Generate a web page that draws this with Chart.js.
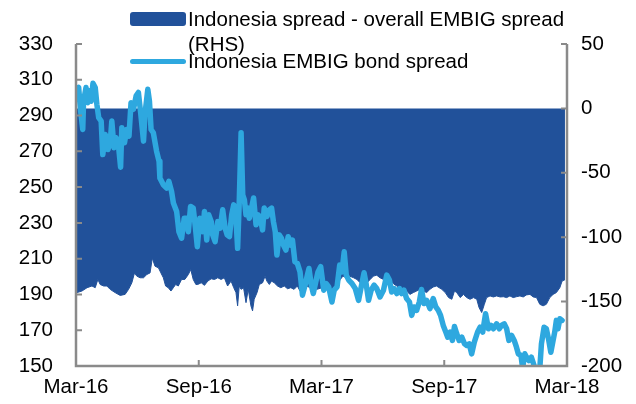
<!DOCTYPE html>
<html>
<head>
<meta charset="utf-8">
<script src="https://cdn.jsdelivr.net/npm/chart.js@4.4.0/dist/chart.umd.min.js"></script>
<style>
  html, body { margin: 0; padding: 0; background: #fff; }
  #wrap { position: relative; width: 636px; height: 404px; }
  .lg { position: absolute; font-family: 'Liberation Sans', Arial, sans-serif; font-size: 20.5px; line-height: 25px; color: #000; white-space: nowrap; }
  .key { position: absolute; }
</style>
</head>
<body>
<div id="wrap">
  <canvas id="myChart" width="636" height="404"></canvas>
  <div class="key" style="left:130px; top:12px; width:56px; height:14px; background:#21519a; border-radius:3px;"></div>
  <div class="lg" style="left:188px; top:6px;">Indonesia spread - overall EMBIG spread<br>(RHS)</div>
  <div class="key" style="left:130px; top:59px; width:56px; height:5px; background:#2ea8df; border-radius:3px;"></div>
  <div class="lg" style="left:188px; top:48px;">Indonesia EMBIG bond spread</div>
</div>
<script>
// x values are months since Mar-16
const xTickLabels = ['Mar-16', 'Sep-16', 'Mar-17', 'Sep-17', 'Mar-18'];

// Indonesia EMBIG bond spread (LHS)
const bondMonths = [
  0.05,0.13,0.21,0.33,0.37,0.49,0.58,0.67,0.74,0.83,
  0.94,1.02,1.11,1.23,1.31,1.43,1.56,1.67,1.75,1.86,
  1.96,2.08,2.18,2.24,2.37,2.48,2.59,2.69,2.81,2.94,
  3.05,3.16,3.30,3.37,3.51,3.59,3.67,3.78,3.94,4.06,
  4.10,4.27,4.43,4.54,4.67,4.76,4.92,5.03,5.16,5.29,
  5.40,5.49,5.60,5.73,5.84,5.93,6.05,6.20,6.28,6.39,
  6.49,6.61,6.68,6.80,6.93,7.04,7.17,7.29,7.39,7.50,
  7.61,7.71,7.82,7.90,7.98,8.07,8.15,8.23,8.31,8.39,
  8.47,8.58,8.68,8.80,8.91,9.01,9.12,9.20,9.33,9.45,
  9.56,9.65,9.74,9.82,9.93,10.04,10.14,10.26,10.37,10.50,
  10.58,10.70,10.82,10.95,11.07,11.20,11.31,11.39,11.50,11.60,
  11.72,11.83,11.96,12.11,12.23,12.35,12.51,12.62,12.76,12.89,
  13.00,13.11,13.21,13.33,13.49,13.65,13.81,13.94,14.08,14.18,
  14.30,14.43,14.57,14.70,14.86,15.03,15.19,15.32,15.43,15.55,
  15.68,15.81,15.92,16.03,16.16,16.30,16.41,16.52,16.65,16.78,
  16.89,17.01,17.14,17.30,17.46,17.59,17.71,17.82,17.95,18.08,
  18.17,18.29,18.40,18.50,18.61,18.73,18.86,18.99,19.10,19.22,
  19.34,19.47,19.63,19.75,19.88,20.02,20.16,20.29,20.40,20.56,
  20.69,20.80,20.93,21.05,21.16,21.29,21.42,21.53,21.62,21.75,
  21.83,21.94,22.02,22.14,22.26,22.40,22.51,22.67,22.75,22.88,
  22.99,23.11,23.21,23.32,23.40,23.48,23.56,23.65,23.76
];
const bondSpread = [
  304.7,305.7,294.4,282.2,298,305.7,297.2,303.8,298,308,
  305.7,296.3,288.8,286.9,268.2,279.4,271,274.8,286.9,272,
  277.6,272.9,261.1,283.2,274.8,282.2,278.5,297.2,293.5,301,
  302.9,291.6,275.7,290.7,304.7,298,282.2,280.4,270,264.4,
  255.1,251.3,249.5,253.2,247.6,241.1,236.4,225.1,221.4,232.6,
  232.6,225.1,239.2,238.3,227,216.7,232.6,225.1,236.4,220.4,
  234.5,230.7,223.3,219.5,230.7,227,237.3,227,223.3,222.3,
  234.5,240.1,232.6,215.8,242,280.4,245.7,242.9,234.5,238.3,
  232.6,238.3,243.9,228.9,234.5,232.6,226.1,238.3,233.6,237.3,
  238.3,230.7,225.1,212,223.3,221.4,217.6,214.8,222.3,217.6,
  220.4,208.3,207.4,202.6,189.6,195.2,200.8,204.5,195.2,190.5,
  197,202.6,205.5,192.4,196.1,194.2,185.8,192.4,194.2,206.4,
  202.6,213.9,200.8,198,196.1,193.3,186.7,194.2,202.1,196.1,
  186.7,192.4,195.2,193.3,188.6,192.4,200.8,198,191.4,193.3,
  190.5,193.3,190.5,192.4,187.7,185.8,178.3,183,181.1,185.8,
  192.8,184.9,186.7,182.1,187.7,183,181.1,178.3,172.7,168.9,
  166.1,169,164.3,172.1,168,164.3,166.1,162.4,161.5,162.4,
  156.8,163.3,169,171.7,169,179.2,170.8,172.7,170.8,173.6,
  170.8,172.7,173.6,170.8,164.3,167.1,164.3,160.5,156.8,155.9,
  149,156.8,154.9,153,154.9,150,149,148.5,162.4,171.7,
  170.8,164.3,157.7,164.3,169,175.5,170.8,176.4,175.5
];

// Indonesia spread - overall EMBIG spread (RHS)
const gapMonths = [
  0.00,0.05,0.29,0.54,0.78,0.94,1.07,1.18,1.35,1.51,
  1.67,1.91,2.16,2.40,2.57,2.73,2.86,2.97,3.13,3.30,
  3.46,3.62,3.73,3.86,4.03,4.15,4.27,4.38,4.51,4.64,
  4.76,4.87,5.00,5.16,5.32,5.49,5.61,5.73,5.86,5.95,
  6.12,6.28,6.44,6.61,6.77,6.93,7.09,7.25,7.41,7.58,
  7.71,7.82,7.90,7.98,8.07,8.19,8.31,8.42,8.55,8.63,
  8.71,8.85,8.96,9.12,9.24,9.33,9.45,9.56,9.69,9.85,
  10.01,10.18,10.34,10.50,10.66,10.82,10.95,11.12,11.28,11.44,
  11.60,11.77,12.03,12.27,12.43,12.59,12.76,12.92,13.05,13.21,
  13.37,13.57,13.73,13.89,14.06,14.22,14.38,14.54,14.70,14.86,
  15.03,15.19,15.35,15.52,15.68,15.84,16.00,16.16,16.32,16.49,
  16.65,16.81,16.98,17.14,17.30,17.46,17.62,17.88,18.05,18.21,
  18.37,18.50,18.61,18.78,18.94,19.10,19.26,19.43,19.59,19.70,
  19.83,19.96,20.07,20.24,20.40,20.56,20.73,20.89,21.05,21.21,
  21.37,21.53,21.70,21.86,22.02,22.19,22.35,22.51,22.67,22.83,
  22.99,23.16,23.32,23.48,23.65,23.76,23.90
];
const gapSpread = [
  -143,-143,-141.8,-139.2,-137.9,-139.2,-132.8,-136.7,-137.9,-137.9,
  -140.5,-143,-145.2,-144.4,-140.5,-135.4,-127.7,-130.2,-131.5,-131.5,
  -129,-127.7,-116.2,-122.5,-123.8,-127.7,-131.5,-137.9,-139.2,-141.8,
  -139.2,-136.7,-137.9,-132.8,-132.8,-129,-125.1,-132.8,-136.7,-136.7,
  -135.4,-137.4,-134.1,-132.3,-132.8,-131.5,-132.8,-131.5,-137.9,-134.1,
  -139.2,-143,-153.3,-137.9,-140.5,-139.2,-150.8,-140.5,-153.3,-157.2,
  -148.2,-143,-136.7,-135.4,-130.2,-134.1,-136.7,-134.1,-135.4,-137.9,
  -139.2,-137.9,-140,-139.2,-140.5,-137.9,-141.8,-141.8,-137.9,-139.2,
  -139.2,-140.5,-139.2,-140.5,-141.8,-139.2,-136.7,-132.8,-130.2,-131.5,
  -130.2,-131.5,-132.8,-135.4,-134.1,-135.4,-132.8,-130.2,-129.5,-131.5,
  -132.8,-134.1,-132.8,-136.2,-137.9,-139.2,-141.3,-141.8,-144.4,-143,
  -141.8,-140.5,-141.8,-143,-140.5,-138.7,-137.9,-140.5,-143,-146.9,
  -148.2,-141.8,-143,-146.9,-144.4,-146.9,-148.2,-146.9,-148.2,-154.6,
  -158.5,-152.1,-146.9,-145.6,-146.4,-145.6,-146.4,-146.2,-146.9,-145.6,
  -146.9,-146.2,-145.6,-146.4,-144.8,-144.4,-146.4,-146.9,-152.1,-153.3,
  -152.1,-146.9,-144.4,-143,-139.2,-134.1,-133
];

const darkBlue = '#21519a';
const lightBlue = '#2ea8df';
const axisGrey = '#8a8a8a';
const tickFont = { family: "'Liberation Sans', Arial, sans-serif", size: 20.5 };

const bondPoints = bondMonths.map((m, i) => ({ x: m, y: bondSpread[i] }));
const gapPoints = gapMonths.map((m, i) => ({ x: m, y: gapSpread[i] }));

// axis lines and short inward tick marks, drawn over the data
const axisLines = {
  id: 'axisLines',
  afterDatasetsDraw(chart) {
    const { ctx, chartArea: a, scales } = chart;
    ctx.save();
    ctx.strokeStyle = axisGrey;
    ctx.lineWidth = 2.5;
    ctx.beginPath();
    ctx.moveTo(a.left, a.top);
    ctx.lineTo(a.left, a.bottom);
    ctx.lineTo(a.right, a.bottom);
    ctx.lineTo(a.right, a.top);
    ctx.stroke();
    ctx.lineWidth = 2;
    ctx.beginPath();
    scales.y.ticks.forEach(t => {
      const p = scales.y.getPixelForValue(t.value);
      ctx.moveTo(a.left, p); ctx.lineTo(a.left + 6, p);
    });
    scales.y1.ticks.forEach(t => {
      const p = scales.y1.getPixelForValue(t.value);
      ctx.moveTo(a.right, p); ctx.lineTo(a.right - 6, p);
    });
    scales.x.ticks.forEach(t => {
      const p = scales.x.getPixelForValue(t.value);
      ctx.moveTo(p, a.bottom); ctx.lineTo(p, a.bottom - 6);
    });
    ctx.stroke();
    ctx.restore();
  }
};

new Chart(document.getElementById('myChart'), {
  type: 'line',
  data: {
    datasets: [{
      label: 'Indonesia EMBIG bond spread',
      data: bondPoints,
      yAxisID: 'y',
      borderColor: lightBlue,
      borderWidth: 5.5,
      borderJoinStyle: 'round',
      borderCapStyle: 'round',
      pointRadius: 0,
      tension: 0,
      fill: false
    }, {
      label: 'Indonesia spread - overall EMBIG spread (RHS)',
      data: gapPoints,
      yAxisID: 'y1',
      borderColor: darkBlue,
      backgroundColor: darkBlue,
      borderWidth: 1,
      pointRadius: 0,
      tension: 0,
      fill: 'origin'
    }]
  },
  options: {
    responsive: false,
    animation: false,
    devicePixelRatio: 1,
    layout: { padding: { top: 44, left: 0, right: 0, bottom: 0 } },
    plugins: { legend: { display: false }, tooltip: { enabled: false } },
    scales: {
      x: {
        type: 'linear', min: 0, max: 24,
        grid: { display: false, drawTicks: false }, border: { display: false },
        ticks: {
          stepSize: 6, autoSkip: false, maxRotation: 0, padding: 9,
          color: '#000', font: tickFont,
          callback: v => xTickLabels[v / 6]
        },
        afterFit: s => { s.height = 38; }
      },
      y: {
        position: 'left', min: 150, max: 330,
        grid: { display: false, drawTicks: false }, border: { display: false },
        ticks: { stepSize: 20, padding: 23, color: '#000', font: tickFont },
        afterFit: s => { s.width = 76; }
      },
      y1: {
        position: 'right', min: -200, max: 50,
        grid: { display: false, drawTicks: false }, border: { display: false },
        ticks: { stepSize: 50, padding: 14, color: '#000', font: tickFont },
        afterFit: s => { s.width = 69; }
      }
    }
  },
  plugins: [axisLines]
});
</script>
</body>
</html>
